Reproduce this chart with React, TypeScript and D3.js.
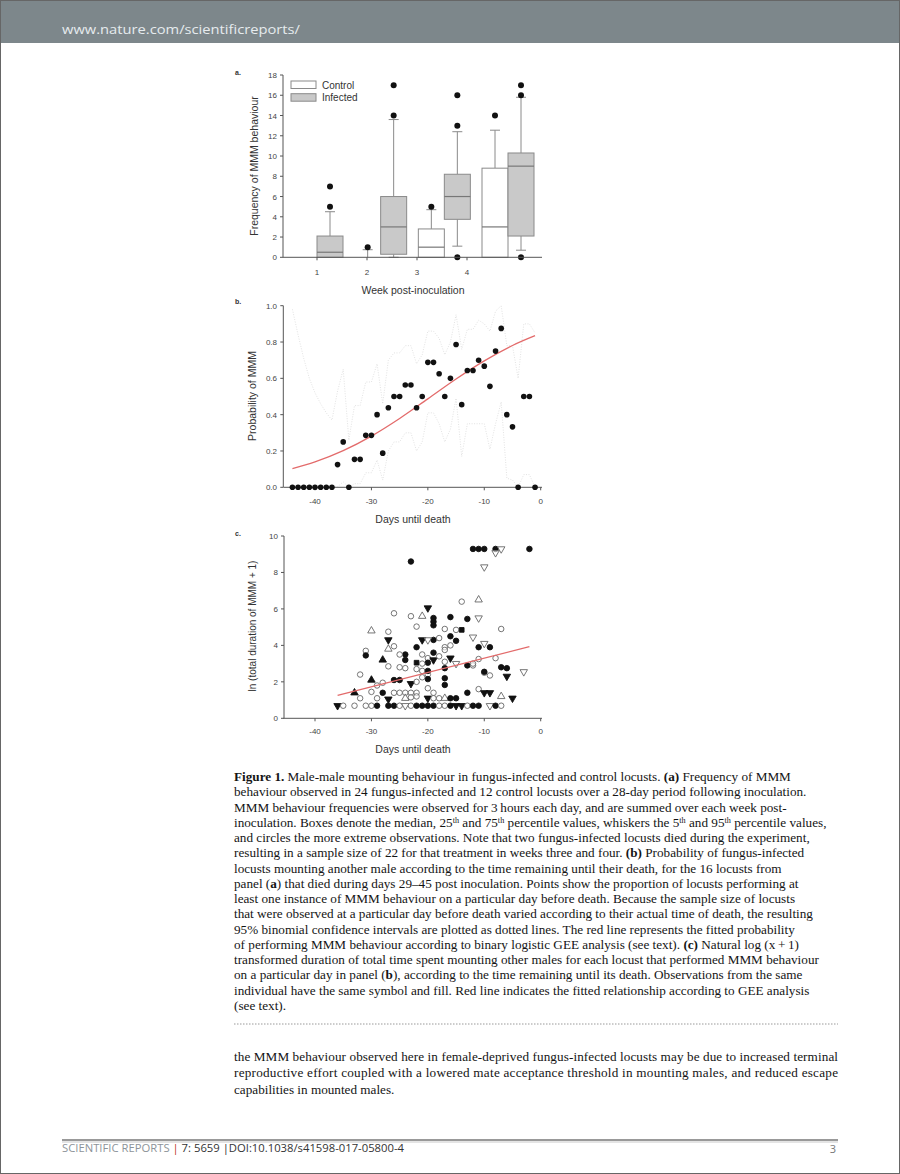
import React from 'react';
import * as d3 from 'd3';

// ---------- Panel a data ----------
const weeks = [1, 2, 3, 4];
const legendLabels = ['Control', 'Infected'];
// [p5, q1, median, q3, p95]
const controlStats = [[0, 0, 0, 0, 0], [0, 0, 0, 0, 0.75], [0, 0, 1, 2.8, 4.7], [0, 0, 3, 8.8, 12.55]];
const infectedStats = [[0, 0, 0.5, 2.1, 4.5], [0, 0.3, 3, 6, 13.6], [1.1, 3.75, 6, 8.2, 12.4], [0.7, 2.1, 9, 10.3, 15.8]];
const controlOutliers = [[], [1], [5], [14]];
const infectedOutliers = [[5, 7], [14, 17], [0, 13, 16], [0, 16, 17]];
const aTicks = [0, 2, 4, 6, 8, 10, 12, 14, 16, 18];

// ---------- Panel b data ----------
const bDays = [-44, -43, -42, -41, -40, -39, -38, -37, -36, -35, -34, -33, -32, -31, -30, -29, -28, -27, -26, -25, -24, -23, -22, -21, -20, -19, -18, -17, -16, -15, -14, -13, -12, -11, -10, -9, -8, -7, -6, -5, -4, -3, -2, -1];
const bProb = [0, 0, 0, 0, 0, 0, 0, 0, 0.125, 0.25, 0, 0.154, 0.154, 0.286, 0.286, 0.4, 0.188, 0.438, 0.5, 0.5, 0.563, 0.563, 0.438, 0.5, 0.688, 0.688, 0.625, 0.5, 0.6, 0.786, 0.455, 0.643, 0.643, 0.7, 0.667, 0.556, 0.75, 0.875, 0.4, 0.333, 0, 0.5, 0.5, 0];
const bUpper = [0.98, 0.84, 0.71, 0.6, 0.52, 0.46, 0.41, 0.37, 0.53, 0.65, 0.26, 0.45, 0.45, 0.58, 0.58, 0.68, 0.46, 0.7, 0.74, 0.74, 0.78, 0.78, 0.68, 0.73, 0.86, 0.86, 0.82, 0.73, 0.8, 0.95, 0.76, 0.87, 0.87, 0.92, 0.9, 0.86, 0.97, 1.0, 0.78, 0.78, 0.6, 0.9, 0.9, 0.85];
const bLower = [0, 0, 0, 0, 0, 0, 0, 0, 0.003, 0.03, 0, 0.02, 0.02, 0.08, 0.08, 0.15, 0.04, 0.2, 0.25, 0.25, 0.3, 0.3, 0.2, 0.25, 0.41, 0.41, 0.35, 0.25, 0.32, 0.49, 0.17, 0.35, 0.35, 0.35, 0.35, 0.21, 0.35, 0.47, 0.05, 0.04, 0, 0.07, 0.07, 0];
const fitDays = [-44, -40, -35, -30, -25, -20, -15, -10, -5, -1];
const fitProb = [0.103, 0.14, 0.202, 0.282, 0.379, 0.487, 0.596, 0.696, 0.781, 0.835];
const dayTicks = [-40, -30, -20, -10, 0];
const bTicks = [0, 0.2, 0.4, 0.6, 0.8, 1.0];

// ---------- Panel c data ----------
// symbol: 0 filled circle, 1 open circle, 2 filled tri-down, 3 open tri-down, 4 filled tri-up, 5 open tri-up, 6 filled square
const cDays = [
  -12, -11, -10, -8, -7, -8, -2,
  -23, -10,
  -14, -11, -20,
  -26, -23, -21, -19, -19, -19, -16, -13, -11, -22,
  -30, -27, -17, -15, -14, -7, -12,
  -27, -19, -16, -15, -18, -21, -20,
  -22, -17, -16, -11, -9, -10,
  -27, -26, -31, -31, -28, -24, -25, -24, -27, -25, -24,
  -21, -20, -19, -19, -18, -16, -17, -15, -22, -20, -21, -13, -12, -12, -7, -6, -11, -10, -9, -10, -6, -3, -8,
  -17, -17, -17, -22, -21, -20, -20, -20, -32, -30, -29, -28, -26, -25, -23, -22, -21,
  -17, -11, -13, -10, -9, -7, -5,
  -20, -19,
  -20, -19, -18, -17, -16, -15,
  -26, -25, -24, -23, -22, -33, -30, -29, -28, -27, -23, -22, -32, -24,
  -36, -35, -33, -31, -30, -29, -27, -26, -25, -24, -23, -22, -21, -20, -19, -18, -17, -16, -15, -14, -13, -12, -11, -9, -8, -7,
];
const cValues = [
  9.29, 9.29, 9.29, 9.29, 9.29, 9.08, 9.29,
  8.6, 8.3,
  6.4, 6.5, 6.05,
  5.76, 5.6, 5.6, 5.5, 5.3, 5.1, 5.55, 5.45, 5.5, 5.03,
  4.8, 4.75, 4.9, 4.85, 4.85, 4.9, 4.45,
  4.3, 4.3, 4.5, 4.25, 4.4, 4.3, 4.3,
  3.9, 3.9, 4.0, 3.9, 3.9, 4.1,
  3.8, 3.95, 3.7, 3.45, 3.2, 3.5, 3.5, 3.2, 2.85, 2.8, 2.75,
  3.5, 3.3, 3.6, 3.2, 3.4, 3.3, 3.75, 3.0, 3.05, 3.05, 3.0, 2.9, 2.9, 3.0, 2.8, 2.75, 3.25, 2.5, 2.35, 2.55, 2.3, 2.55, 3.3,
  2.75, 2.2, 3.1, 2.7, 2.6, 2.4, 2.6, 2.15, 2.4, 2.1, 1.8, 1.95, 2.1, 2.1, 1.9, 2.0, 2.25,
  1.83, 1.6, 1.4, 1.4, 1.4, 1.2, 1.1,
  1.65, 1.4,
  1.1, 1.1, 1.1, 1.1, 1.1, 1.1,
  1.4, 1.4, 1.4, 1.4, 1.4, 1.4, 1.45, 1.1, 1.4, 1.05, 1.15, 1.2, 1.1, 1.1,
  0.69, 0.69, 0.69, 0.69, 0.69, 0.69, 0.69, 0.69, 0.69, 0.69, 0.69, 0.69, 0.69, 0.69, 0.69, 0.69, 0.69, 0.69, 0.69, 0.69, 0.69, 0.69, 0.69, 0.69, 0.69, 0.69,
];
const cSymbols = [
  0, 0, 0, 0, 3, 3, 0,
  0, 3,
  1, 5, 2,
  1, 1, 5, 0, 0, 0, 0, 0, 3, 1,
  5, 1, 1, 1, 6, 1, 3,
  2, 0, 0, 0, 1, 2, 3,
  0, 1, 1, 0, 0, 3,
  5, 1, 1, 0, 4, 0, 1, 0, 1, 1, 1,
  1, 1, 0, 2, 1, 2, 1, 3, 6, 0, 1, 0, 1, 1, 0, 0, 1, 1, 1, 0, 2, 3, 1,
  0, 0, 1, 1, 1, 1, 0, 0, 1, 4, 1, 1, 0, 0, 2, 1, 1,
  0, 1, 0, 2, 2, 5, 2,
  1, 1,
  2, 1, 1, 5, 0, 0,
  1, 1, 1, 1, 1, 4, 1, 1, 0, 2, 1, 1, 1, 5,
  2, 1, 1, 1, 1, 0, 0, 0, 1, 3, 1, 0, 0, 0, 0, 1, 1, 0, 2, 2, 1, 0, 0, 3, 0, 1,
];
const cFitDays = [-36, -2];
const cFitValues = [1.26, 3.93];
const cTicks = [0, 2, 4, 6, 8, 10];

// ---------- Text ----------
const captionLines = [
  '**Figure 1.**  Male-male mounting behaviour in fungus-infected and control locusts. **(a)** Frequency of MMM',
  'behaviour observed in 24 fungus-infected and 12 control locusts over a 28-day period following inoculation.',
  'MMM behaviour frequencies were observed for 3\u2009hours each day, and are summed over each week post-',
  'inoculation. Boxes denote the median, 25^th^ and 75^th^ percentile values, whiskers the 5^th^ and 95^th^ percentile values,',
  'and circles the more extreme observations. Note that two fungus-infected locusts died during the experiment,',
  'resulting in a sample size of 22 for that treatment in weeks three and four. **(b)** Probability of fungus-infected',
  'locusts mounting another male according to the time remaining until their death, for the 16 locusts from',
  'panel (**a**) that died during days 29\u201345 post inoculation. Points show the proportion of locusts performing at',
  'least one instance of MMM behaviour on a particular day before death. Because the sample size of locusts',
  'that were observed at a particular day before death varied according to their actual time of death, the resulting',
  '95% binomial confidence intervals are plotted as dotted lines. The red line represents the fitted probability',
  'of performing MMM behaviour according to binary logistic GEE analysis (see text). **(c)** Natural log (x\u2009+\u20091)',
  'transformed duration of total time spent mounting other males for each locust that performed MMM behaviour',
  'on a particular day in panel (**b**), according to the time remaining until its death. Observations from the same',
  'individual have the same symbol and fill. Red line indicates the fitted relationship according to GEE analysis',
  '(see text).',
];
const bodyLines = [
  'the MMM behaviour observed here in female-deprived fungus-infected locusts may be due to increased terminal',
  'reproductive effort coupled with a lowered mate acceptance threshold in mounting males, and reduced escape',
  'capabilities in mounted males.',
];

const SANS = "'Liberation Sans', Arial, sans-serif";
const SERIF = "'Liberation Serif', 'Times New Roman', serif";
const AX = '#555';
const TXT = '#444';

function renderRich(line: string) {
  const parts: React.ReactNode[] = [];
  const re = /(\*\*[^*]+\*\*|\^[^^]+\^)/g;
  let last = 0;
  let m: RegExpExecArray | null;
  let k = 0;
  let afterSup = false;
  while ((m = re.exec(line)) !== null) {
    if (m.index > last) {
      parts.push(<tspan key={k++} dy={afterSup ? 3.8 : 0}>{line.slice(last, m.index)}</tspan>);
      afterSup = false;
    }
    const tok = m[0];
    if (tok.startsWith('**')) {
      parts.push(<tspan key={k++} fontWeight="bold" dy={afterSup ? 3.8 : 0}>{tok.slice(2, -2)}</tspan>);
      afterSup = false;
    } else {
      parts.push(<tspan key={k++} fontSize={8.2} dy={afterSup ? 0 : -3.8}>{tok.slice(1, -1)}</tspan>);
      afterSup = true;
    }
    last = m.index + tok.length;
  }
  if (last < line.length) parts.push(<tspan key={k++} dy={afterSup ? 3.8 : 0}>{line.slice(last)}</tspan>);
  return parts;
}

function symbolPath(t: number) {
  if (t === 0 || t === 1) return d3.symbol(d3.symbolCircle, 24)() as string;
  if (t === 6) return d3.symbol(d3.symbolSquare, 22)() as string;
  return d3.symbol(d3.symbolTriangle, 24)() as string;
}

function PanelA() {
  const y = d3.scaleLinear().domain([0, 18]).range([257.3, 75]);
  const groupX = d3.scaleLinear().domain([1, 4]).range([317, 508]);
  const labelX = d3.scaleLinear().domain([1, 4]).range([317, 467]);
  const bw = 26;
  const axisX = 283;
  const drawBox = (s: number[], outs: number[], x0: number, fill: string, key: string) => {
    const [p5, q1, med, q3, p95] = s;
    const cx = x0 + bw / 2;
    const els: React.ReactNode[] = [];
    if (p95 > q3) {
      els.push(<line key="wt" x1={cx} x2={cx} y1={y(q3)} y2={y(p95)} stroke="#8a8a8a" strokeWidth={1} />);
      els.push(<line key="ct" x1={cx - 5} x2={cx + 5} y1={y(p95)} y2={y(p95)} stroke="#8a8a8a" strokeWidth={1} />);
    }
    if (q1 > p5) {
      els.push(<line key="wb" x1={cx} x2={cx} y1={y(q1)} y2={y(p5)} stroke="#8a8a8a" strokeWidth={1} />);
      els.push(<line key="cb" x1={cx - 5} x2={cx + 5} y1={y(p5)} y2={y(p5)} stroke="#8a8a8a" strokeWidth={1} />);
    }
    if (q3 > q1) {
      els.push(<rect key="b" x={x0} y={y(q3)} width={bw} height={y(q1) - y(q3)} fill={fill} stroke="#8a8a8a" strokeWidth={1} />);
      els.push(<line key="m" x1={x0} x2={x0 + bw} y1={y(med)} y2={y(med)} stroke="#777" strokeWidth={1.2} />);
    }
    outs.forEach((o, i) => els.push(<circle key={'o' + i} cx={cx} cy={y(o)} r={3} fill="#111" />));
    return <g key={key}>{els}</g>;
  };
  return (
    <g>
      <text x={235} y={75} fontSize={7} fontWeight="bold" fill="#333" fontFamily={SANS}>a.</text>
      {weeks.map((w, i) => (
        <g key={w}>
          {drawBox(controlStats[i], controlOutliers[i], groupX(w) - bw, '#ffffff', 'c')}
          {drawBox(infectedStats[i], infectedOutliers[i], groupX(w), '#c9c9c9', 'i')}
        </g>
      ))}
      <line x1={axisX} x2={axisX} y1={y(18)} y2={y(0)} stroke={AX} strokeWidth={1} />
      <line x1={axisX} x2={542} y1={y(0)} y2={y(0)} stroke={AX} strokeWidth={1} />
      {aTicks.map((t) => (
        <g key={t}>
          <line x1={axisX - 3} x2={axisX} y1={y(t)} y2={y(t)} stroke={AX} />
          <text x={axisX - 6} y={y(t) + 3} fontSize={8} textAnchor="end" fill={TXT} fontFamily={SANS}>{t}</text>
        </g>
      ))}
      {weeks.map((w) => (
        <g key={w}>
          <line x1={labelX(w)} x2={labelX(w)} y1={y(0)} y2={y(0) + 3} stroke={AX} />
          <text x={labelX(w)} y={275} fontSize={8} textAnchor="middle" fill={TXT} fontFamily={SANS}>{w}</text>
        </g>
      ))}
      <text x={413} y={294} fontSize={10.5} textAnchor="middle" fill="#333" fontFamily={SANS}>Week post-inoculation</text>
      <text transform={`translate(258,${166}) rotate(-90)`} fontSize={10.5} textAnchor="middle" fill="#333" fontFamily={SANS}>Frequency of MMM behaviour</text>
      {legendLabels.map((l, i) => (
        <g key={l}>
          <rect x={291} y={81 + i * 12.7} width={25} height={7.5} fill={i === 0 ? '#fff' : '#c9c9c9'} stroke="#8a8a8a" />
          <text x={322} y={88.5 + i * 12.7} fontSize={10} fill="#333" fontFamily={SANS}>{l}</text>
        </g>
      ))}
    </g>
  );
}

function DayAxis({ x, yBase, labelY, titleY }: { x: d3.ScaleLinear<number, number>; yBase: number; labelY: number; titleY: number }) {
  return (
    <g>
      <line x1={283.5} x2={542} y1={yBase} y2={yBase} stroke={AX} />
      {dayTicks.map((t) => (
        <g key={t}>
          <line x1={x(t)} x2={x(t)} y1={yBase} y2={yBase + 3} stroke={AX} />
          <text x={x(t)} y={labelY} fontSize={8} textAnchor="middle" fill={TXT} fontFamily={SANS}>{t === 0 ? '0' : '-' + Math.abs(t)}</text>
        </g>
      ))}
      <text x={413} y={titleY} fontSize={10.5} textAnchor="middle" fill="#333" fontFamily={SANS}>Days until death</text>
    </g>
  );
}

function PanelB() {
  const x = d3.scaleLinear().domain([-40, 0]).range([315, 540.7]);
  const y = d3.scaleLinear().domain([0, 1]).range([487.3, 305.7]);
  const ciLine = d3.line<number>().x((_, i) => x(bDays[i])).y((v) => y(v));
  const fit = d3.line<number>().x((_, i) => x(fitDays[i])).y((v) => y(v)).curve(d3.curveCatmullRom);
  return (
    <g>
      <text x={235} y={304} fontSize={7} fontWeight="bold" fill="#333" fontFamily={SANS}>b.</text>
      <path d={ciLine(bUpper) as string} fill="none" stroke="#d6d6d6" strokeWidth={0.7} strokeDasharray="1,1.5" />
      <path d={ciLine(bLower) as string} fill="none" stroke="#d6d6d6" strokeWidth={0.7} strokeDasharray="1,1.5" />
      <line x1={283.3} x2={283.3} y1={y(1)} y2={y(0)} stroke={AX} />
      {bTicks.map((t) => (
        <g key={t}>
          <line x1={280.3} x2={283.3} y1={y(t)} y2={y(t)} stroke={AX} />
          <text x={277} y={y(t) + 3} fontSize={8} textAnchor="end" fill={TXT} fontFamily={SANS}>{t.toFixed(1)}</text>
        </g>
      ))}
      <DayAxis x={x} yBase={y(0)} labelY={504} titleY={523} />
      <path d={fit(fitProb) as string} fill="none" stroke="#e36b6b" strokeWidth={1.3} />
      {bDays.map((d, i) => (
        <circle key={i} cx={x(d)} cy={y(bProb[i])} r={2.8} fill="#111" />
      ))}
      <text transform={`translate(256,${396}) rotate(-90)`} fontSize={10.5} textAnchor="middle" fill="#333" fontFamily={SANS}>Probability of MMM</text>
    </g>
  );
}

function PanelC() {
  const x = d3.scaleLinear().domain([-40, 0]).range([315, 540.7]);
  const y = d3.scaleLinear().domain([0, 10]).range([718.3, 536]);
  return (
    <g>
      <text x={235} y={536} fontSize={7} fontWeight="bold" fill="#333" fontFamily={SANS}>c.</text>
      <line x1={284} x2={284} y1={y(10)} y2={y(0)} stroke={AX} />
      {cTicks.map((t) => (
        <g key={t}>
          <line x1={281} x2={284} y1={y(t)} y2={y(t)} stroke={AX} />
          <text x={278} y={y(t) + 3} fontSize={8} textAnchor="end" fill={TXT} fontFamily={SANS}>{t}</text>
        </g>
      ))}
      <DayAxis x={x} yBase={y(0)} labelY={734} titleY={753} />
      {cDays.map((d, i) => {
        const s = cSymbols[i];
        const filled = s === 0 || s === 2 || s === 4 || s === 6;
        const rot = s === 2 || s === 3 ? ' rotate(180)' : '';
        return (
          <path
            key={i}
            d={symbolPath(s)}
            transform={`translate(${x(d)},${y(cValues[i])})${rot}`}
            fill={filled ? '#111' : '#fff'}
            fillOpacity={filled ? 1 : 0.6}
            stroke={filled ? '#111' : '#666'}
            strokeWidth={0.9}
          />
        );
      })}
      <line x1={x(cFitDays[0])} y1={y(cFitValues[0])} x2={x(cFitDays[1])} y2={y(cFitValues[1])} stroke="#e36b6b" strokeWidth={1.3} />
      <text transform={`translate(256,${626}) rotate(-90)`} fontSize={10} textAnchor="middle" fill="#333" fontFamily={SANS}>ln (total duration of MMM + 1)</text>
    </g>
  );
}

export default function App() {
  const W = 900;
  const H = 1174;
  return (
    <svg width={W} height={H} style={{ position: 'absolute', left: 0, top: 0 }}>
      <rect x={0} y={0} width={W} height={H} fill="#ffffff" />
      <rect x={0} y={0} width={W} height={43} fill="#7d878b" />
      <text x={62} y={34} fontSize={13.5} fill="#e6ebee" fontFamily="'Open Sans', sans-serif" textLength={238} lengthAdjust="spacingAndGlyphs">www.nature.com/scientificreports/</text>
      <PanelA />
      <PanelB />
      <PanelC />
      <g fontFamily={SERIF} fontSize={13.2} fill="#141414">
        {captionLines.map((l, i) => (
          <text key={i} x={234} y={781 + i * 15.25}>{renderRich(l)}</text>
        ))}
      </g>
      <line x1={234} x2={838} y1={1024} y2={1024} stroke="#999" strokeWidth={1} strokeDasharray="1.5,1.5" />
      <g fontFamily={SERIF} fontSize={13.2} fill="#141414">
        {bodyLines.map((l, i) => (
          <text key={i} x={234} y={1061 + i * 16.3} textLength={i < 2 ? 604 : undefined} lengthAdjust="spacing">{l}</text>
        ))}
      </g>
      <line x1={62} x2={838} y1={1140} y2={1140} stroke="#777" strokeWidth={1.5} />
      <line x1={62} x2={838} y1={1142} y2={1142} stroke="#bbb" strokeWidth={0.8} />
      <text x={62} y={1152} fontSize={10.5} fontFamily="'Open Sans', sans-serif" textLength={342} lengthAdjust="spacingAndGlyphs">
        <tspan fill="#8d9399">SCIENTIFIC REPORTS </tspan>
        <tspan fill="#c0392b">|</tspan>
        <tspan fill="#333"> 7: 5659 </tspan>
        <tspan fill="#333">|DOI:10.1038/s41598-017-05800-4</tspan>
      </text>
      <text x={836} y={1153} fontSize={11} textAnchor="end" fill="#777" fontFamily="'Open Sans', sans-serif">3</text>
      <rect x={0.5} y={0.5} width={W - 1} height={H - 1} fill="none" stroke="#666" strokeWidth={1} />
    </svg>
  );
}
